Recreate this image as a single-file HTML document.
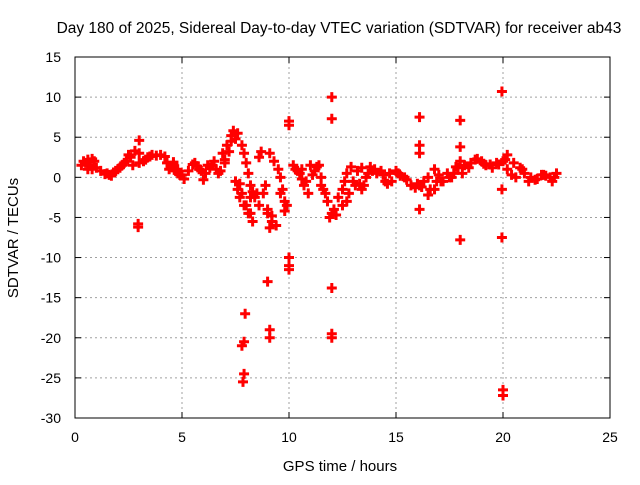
<!DOCTYPE html>
<html><head><meta charset="utf-8"><style>
body{margin:0;background:#fff}
svg text{font-family:"Liberation Sans",sans-serif;font-size:14px;fill:#000}
</style></head><body>
<svg id="chart" width="640" height="480" xmlns="http://www.w3.org/2000/svg">
<text x="339" y="33" text-anchor="middle" style="font-size:15.5px">Day 180 of 2025, Sidereal Day-to-day VTEC variation (SDTVAR) for receiver ab43</text>
<g id="grid"></g>
<g id="axes"></g>
<g id="points"></g>
<text x="340" y="471" text-anchor="middle" style="font-size:15px">GPS time / hours</text>
<text transform="translate(18,238) rotate(-90)" text-anchor="middle" style="font-size:15px">SDTVAR / TECUs</text>
</svg>
<script>
const xTicks=[0,5,10,15,20,25];
const yTicks=[15,10,5,0,-5,-10,-15,-20,-25,-30];
const times=[0.3,0.5,0.7,0.9,1.0,0.6,0.8,1.2,1.4,1.6,1.8,2.0,2.2,2.4,2.6,2.8,3.0,3.0,3.2,2.7,3.0,3.4,3.6,3.8,4.0,4.2,
4.3,4.5,4.7,4.9,5.1,4.6,4.8,5.3,5.5,5.7,5.9,6.1,6.3,6.0,6.4,6.6,6.8,7.0,6.9,7.1,7.3,7.5,7.0,
7.5,7.6,7.7,7.9,8.1,8.3,7.6,7.8,7.9,8.0,8.1,8.2,8.4,8.6,8.8,9.0,9.2,9.1,8.6,8.7,8.2,
9.1,9.3,9.5,9.6,9.7,9.8,9.8,10.2,10.5,10.7,10.9,10.6,11.0,11.2,11.3,11.5,11.6,11.8,11.9,12.0,11.5,
12.2,12.5,12.8,13.0,13.2,13.4,12.5,12.7,12.9,13.4,13.6,13.8,14.0,14.3,14.5,14.7,15.0,15.2,15.5,15.7,15.9,16.1,16.3,16.5,16.8,17.0,17.2,17.4,17.6,17.8,18.0,18.2,18.5,18.8,19.0,19.2,19.5,19.8,20.0,20.2,20.4,20.6,20.8,21.0,21.3,21.5,21.8,22.0,22.3,22.5,
2.95,2.95,7.95,7.8,7.9,7.9,7.85,9.0,9.1,9.1,10,10,10,10,10,12,12,12,12,12,16.1,16.1,16.1,16.1,18,18,18,19.95,19.95,19.95,20,20,20.2,16.8,16.5,14.6,17.9,
0.4,0.6,0.8,1.5,1.7,1.9,2.1,2.3,2.5,3.3,3.5,4.4,4.6,4.8,5.0,5.6,5.8,6.2,6.5,6.7,7.2,7.4,7.3,7.7,7.8,8.0,8.2,8.3,8.5,8.9,9.0,9.2,9.4,9.6,9.9,10.3,10.4,10.6,10.8,11.1,11.4,11.7,12.1,12.3,12.6,12.7,13.1,13.3,13.5,13.7,13.9,14.1,14.4,14.8,15.1,15.4,16.0,16.2,16.6,16.9,17.1,17.5,17.7,18.1,18.4,18.7,19.1,19.4,19.7,20.1,20.5,20.9,21.2,21.6,21.9,22.2,22.4];
const values=[1.5,1.8,1.5,2.0,1.2,1.0,2.3,0.8,0.4,0.3,0.6,1.0,1.5,2.0,2.5,3.3,4.6,3.0,2.0,1.5,1.8,2.5,2.8,2.7,2.8,2.6,
1.8,1.3,0.8,0.3,-0.2,1.6,1.0,0.8,1.6,1.4,0.8,0.5,1.2,-0.3,1.5,1.0,0.8,1.8,3.0,4.0,5.2,4.8,2.2,
-0.5,-1.5,-2.5,-3.5,-4.5,-5.5,5.5,4.0,3.0,1.8,0.5,-1.0,-2.5,-3.5,-2.0,-4.0,-5.5,-6.3,2.5,3.2,-2.5,
3.0,2.0,1.0,0.0,-1.5,-3.0,-4.2,1.5,0.5,-1.0,-2.0,1.0,1.5,0.8,1.3,0.0,-1.5,-3.0,-5.0,-4.5,-1.0,
-4.7,-3.5,-2.0,-0.5,0.8,1.2,-1.5,0.5,1.3,-1.5,0.0,1.3,1.0,0.8,-0.5,0.5,0.8,0.2,-0.3,-1.0,-1.3,-1.0,-0.5,0.0,1.0,0.3,-0.5,0.5,0.0,1.3,2.0,1.5,1.8,2.3,2.0,1.5,1.2,1.6,2.0,1.0,0.3,0.0,1.2,0.5,0.0,-0.3,0.3,0.2,-0.5,0.5,
-5.8,-6.2,-17,-21,-20.5,-24.5,-25.5,-13,-19,-20,6.5,7,-10,-11,-11.5,10,7.3,-13.8,-19.5,-20,7.5,4,3,-4,7.1,3.8,-7.8,10.7,-1.5,-7.5,-26.5,-27.2,2.8,-1.5,-2.2,-0.8,1.2,
2.0,2.2,1.0,0.5,0.2,0.8,1.2,1.8,2.8,2.2,2.6,1.0,1.9,0.5,0.3,1.8,1.0,1.5,2.0,0.5,3.2,5.8,4.5,-0.8,-2.0,-3.5,-4.5,-1.8,-2.0,-1.0,-4.5,-4.8,-6.0,-2.0,-3.5,1.0,0.8,-0.2,-0.5,0.3,1.5,-2.0,-4.0,-2.5,-0.5,-3.0,-1.0,-0.8,-1.0,0.5,0.8,0.5,0.3,-0.5,0.5,0.0,-0.8,-1.2,-1.5,-0.5,-0.5,0.0,0.5,0.5,1.2,2.2,1.7,1.6,1.8,2.2,1.8,1.0,-0.5,-0.2,0.3,0.0,0.0];
const L=75,R=610,T=57,B=418;
const xS=t=>L+(t-0)/25*(R-L);
const yS=v=>T+(15-v)/45*(B-T);
const NS="http://www.w3.org/2000/svg";
const grid=document.getElementById('grid'),axes=document.getElementById('axes'),pts=document.getElementById('points');
function mk(tag,attrs,parent){const e=document.createElementNS(NS,tag);for(const k in attrs)e.setAttribute(k,attrs[k]);parent.appendChild(e);return e;}
xTicks.forEach(t=>{const x=xS(t);
 if(t>0&&t<25){const g=mk('line',{x1:x,x2:x,y1:T,y2:B,stroke:'#a0a0a0','stroke-dasharray':'2,3'},grid);}
 mk('line',{x1:x,x2:x,y1:B,y2:B-6,stroke:'#000'},axes);mk('line',{x1:x,x2:x,y1:T,y2:T+6,stroke:'#000'},axes);
 const tx=mk('text',{x:x,y:B+24,'text-anchor':'middle'},axes);tx.textContent=t;
 
 });
yTicks.forEach(v=>{const y=yS(v);
 if(v<15&&v>-30){const g=mk('line',{x1:L,x2:R,y1:y,y2:y,stroke:'#a0a0a0','stroke-dasharray':'2,3'},grid);}
 mk('line',{x1:L,x2:L+6,y1:y,y2:y,stroke:'#000'},axes);mk('line',{x1:R,x2:R-6,y1:y,y2:y,stroke:'#000'},axes);
 const tx=mk('text',{x:L-14,y:y+5,'text-anchor':'end'},axes);tx.textContent=v;
 
 });
mk('rect',{x:L,y:T,width:R-L,height:B-T,fill:'none',stroke:'#000'},axes);
times.forEach((t,i)=>{const x=xS(t),y=yS(values[i]);
 const p=mk('path',{d:`M${x-5},${y}H${x+5}M${x},${y-5}V${y+5}`,stroke:'#ff0000','stroke-width':3},pts);
 
 });
</script>
</body></html>
